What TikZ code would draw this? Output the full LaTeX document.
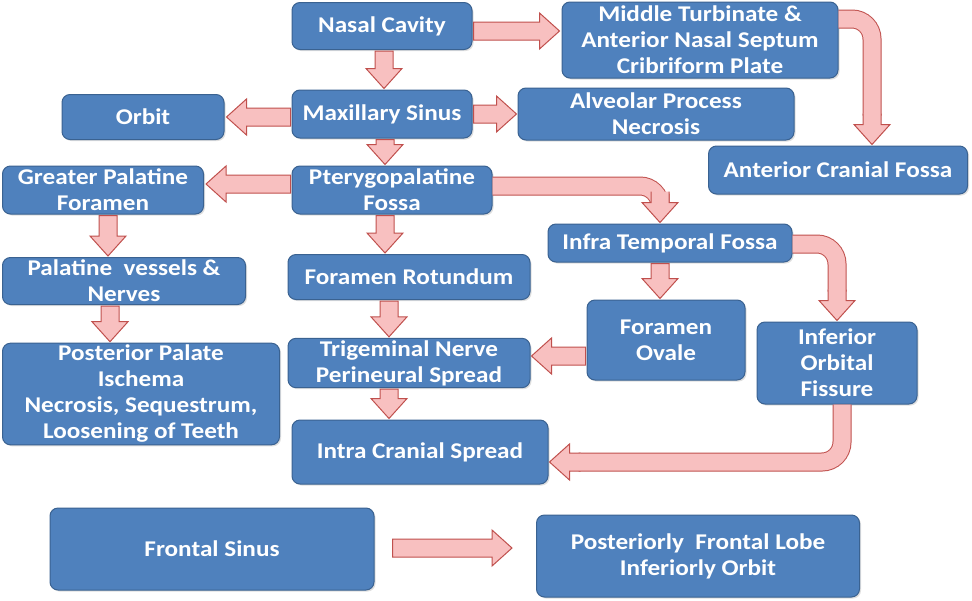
\documentclass[tikz,border=0pt]{standalone}
\usepackage{fontspec}
\setmainfont{Carlito}[FakeStretch=1.12]
\usetikzlibrary{calc,shadows}
\definecolor{boxfill}{HTML}{4F81BD}
\definecolor{boxdraw}{HTML}{3A6291}
\definecolor{arrfill}{HTML}{F8C0C0}
\definecolor{arrdraw}{HTML}{C0504D}
\def\sw{9pt}\def\hw{18pt}\def\hl{20pt}
\tikzset{
  box/.style={draw=boxdraw, fill=boxfill, line width=1pt, rounded corners=8pt,
    text=white, align=center, inner sep=2pt,
    font=\bfseries\fontsize{22.5}{26}\selectfont,
    drop shadow={opacity=0.25, shadow xshift=1.5pt, shadow yshift=-1.5pt}},
  arrbody/.style={fill=arrfill},
  arrline/.style={draw=arrdraw, line width=1pt, line join=miter},
  shaft/.style={draw=arrdraw, line width=1pt, double=arrfill, double distance=17pt, rounded corners=20pt}
}
% straight block arrow, closed at start
\newcommand\sarrow[2]{%
  \coordinate (ArA) at (#1); \coordinate (ArB) at (#2);
  \coordinate (ArC) at ($(ArB)!\hl!(ArA)$);
  \filldraw[arrbody,arrline] ($(ArA)!\sw!90:(ArB)$) -- ($(ArC)!\sw!-90:(ArA)$) -- ($(ArC)!\hw!-90:(ArA)$)
    -- (ArB) -- ($(ArC)!\hw!90:(ArA)$) -- ($(ArC)!\sw!90:(ArA)$) -- ($(ArA)!\sw!-90:(ArB)$) -- cycle;}
% arrow head part, open at start (joins a bent shaft)
\newcommand\harrow[2]{%
  \coordinate (ArA) at (#1); \coordinate (ArB) at (#2);
  \coordinate (ArC) at ($(ArB)!\hl!(ArA)$);
  \fill[arrbody] ($(ArA)!\sw!90:(ArB)$) -- ($(ArC)!\sw!-90:(ArA)$) -- ($(ArC)!\hw!-90:(ArA)$)
    -- (ArB) -- ($(ArC)!\hw!90:(ArA)$) -- ($(ArC)!\sw!90:(ArA)$) -- ($(ArA)!\sw!-90:(ArB)$) -- cycle;
  \draw[arrline] ($(ArA)!\sw!90:(ArB)$) -- ($(ArC)!\sw!-90:(ArA)$) -- ($(ArC)!\hw!-90:(ArA)$)
    -- (ArB) -- ($(ArC)!\hw!90:(ArA)$) -- ($(ArC)!\sw!90:(ArA)$) -- ($(ArA)!\sw!-90:(ArB)$);}
\begin{document}
\begin{tikzpicture}[x=1pt,y=-1pt]
\useasboundingbox[fill=white] (0,0) rectangle (972,600);
% boxes
\node[box, minimum width=180pt, minimum height=47pt] (nasal) at (382,26) {Nasal Cavity};
\node[box, minimum width=276pt, minimum height=76pt] (mid) at (700,40) {Middle Turbinate \&\\Anterior Nasal Septum\\Cribriform Plate};
\node[box, minimum width=162pt, minimum height=45pt] (orbit) at (143,117) {Orbit};
\node[box, minimum width=180pt, minimum height=48pt] (maxil) at (382,114) {Maxillary Sinus};
\node[box, minimum width=276pt, minimum height=52pt] (alv) at (656,114) {Alveolar Process\\Necrosis};
\node[box, minimum width=259pt, minimum height=48pt] (acf) at (838,170) {Anterior Cranial Fossa};
\node[box, minimum width=201pt, minimum height=48pt] (gpf) at (103,190) {Greater Palatine\\Foramen};
\node[box, minimum width=200pt, minimum height=48pt] (ptery) at (392,190) {Pterygopalatine\\Fossa};
\node[box, minimum width=244pt, minimum height=38pt] (itf) at (670,243) {Infra Temporal Fossa};
\node[box, minimum width=243pt, minimum height=47pt] (pvn) at (124,281) {Palatine\ \ vessels \&\\Nerves};
\node[box, minimum width=242pt, minimum height=45pt] (rot) at (409,277) {Foramen Rotundum};
\node[box, minimum width=158pt, minimum height=80pt] (ovale) at (666,340) {Foramen\\Ovale};
\node[box, minimum width=160pt, minimum height=82pt] (iof) at (837,363) {Inferior\\Orbital\\Fissure};
\node[box, minimum width=277pt, minimum height=100pt] (ppal) at (141,394) {Posterior Palate\\Ischema\\Necrosis, Sequestrum,\\Loosening of Teeth};
\node[box, minimum width=242pt, minimum height=46pt] (trig) at (409,363) {Trigeminal Nerve\\Perineural Spread};
\node[box, minimum width=256pt, minimum height=64pt] (ics) at (420,452) {Intra Cranial Spread};
\node[box, minimum width=324pt, minimum height=82pt] (fs) at (212,549) {Frontal Sinus};
\node[box, minimum width=323pt, minimum height=82pt] (pfl) at (698,556) {Posteriorly\ \ Frontal Lobe\\Inferiorly Orbit};
% straight arrows
\sarrow{$(nasal.east)+(1,5)$}{$(mid.west)+(-2,-9)$}
\sarrow{$(nasal.south)+(2,1)$}{$(maxil.north)+(2,-1)$}
\sarrow{$(maxil.west)+(-1,3)$}{$(orbit.east)+(2,0)$}
\sarrow{$(maxil.east)+(1,0)$}{$(alv.west)+(-1,0)$}
\sarrow{$(maxil.south)+(3,1)$}{$(ptery.north)+(-7,-1)$}
\sarrow{$(ptery.west)+(-1,-6)$}{$(gpf.east)+(2,-6)$}
\sarrow{$(ptery.south)+(-7,1)$}{$(rot.north)+(-24,-1)$}
\sarrow{$(gpf.south)+(5,1)$}{$(pvn.north)+(-16,-1)$}
\sarrow{$(pvn.south)+(-14,1)$}{$(ppal.north)+(-31,-1)$}
\sarrow{$(itf.south)+(-10,1)$}{$(ovale.north)+(-6,-1)$}
\sarrow{$(rot.south)+(-20,1)$}{$(trig.north)+(-20,-1)$}
\sarrow{$(ovale.west)+(-1,16)$}{$(trig.east)+(1,-7)$}
\sarrow{$(trig.south)+(-20,1)$}{$(ics.north)+(-31,-1)$}
\coordinate (fsA) at ($(fs.east)+(18,-1)$);
\coordinate (fsB) at ($(pfl.west)+(-24,-8)$);
\sarrow{fsA}{fsB}
% bent arrows
\draw[shaft] ($(ptery.east)+(0,-4)$) -| ($(itf.north)+(-10,-30)$);
\harrow{$(itf.north)+(-10,-32)$}{$(itf.north)+(-10,-1)$}
\draw[shaft] ($(itf.east)+(0,1)$) -| ($(iof.north)+(0,-30)$);
\harrow{$(iof.north)+(0,-32)$}{$(iof.north)+(0,-1)$}
\draw[shaft] ($(mid.east)+(0,-21)$) -| ($(acf.north)+(34,-30)$);
\harrow{$(acf.north)+(34,-32)$}{$(acf.north)+(34,-1)$}
\draw[shaft] ($(iof.south)+(5,0)$) |- ($(ics.east)+(30,10)$);
\harrow{$(ics.east)+(32,10)$}{$(ics.east)+(1,10)$}
\end{tikzpicture}
\end{document}
